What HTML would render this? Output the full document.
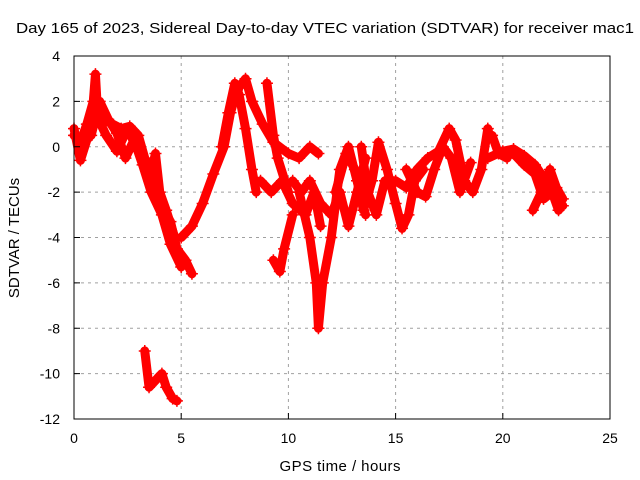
<!DOCTYPE html>
<html><head><meta charset="utf-8"><style>body{margin:0;background:#fff}svg{display:block;font-family:"Liberation Sans",sans-serif}</style></head>
<body>
<svg id="chart" width="640" height="480">
<text x="16" y="33" font-size="15" textLength="618" lengthAdjust="spacingAndGlyphs">Day 165 of 2023, Sidereal Day-to-day VTEC variation (SDTVAR) for receiver mac1</text>
<text x="340" y="471" font-size="15" text-anchor="middle" textLength="121">GPS time / hours</text>
<text transform="translate(19,238) rotate(-90)" font-size="15" text-anchor="middle">SDTVAR / TECUs</text>
<g id="grid"></g><g id="marks"></g><g id="axes"></g>
</svg>
<script>
const xTicks=[0,5,10,15,20,25];
const yTicks=[-12,-10,-8,-6,-4,-2,0,2,4];
const track1=[[0,0.5],[0.3,0.2],[0.6,1],[0.9,2],[1.0,3.2],[1.1,1.5],[1.4,1.2],[1.8,1.0],[2.2,0.8],[2.6,0.9],[3.0,0.5],[3.3,-0.5],[3.6,-1.3],[4.0,-2.5],[4.5,-3.3],[4.8,-4.5],[5.2,-5],[5.5,-5.6]];
const track2=[[0,0.8],[0.3,-0.6],[0.6,0.3],[1.0,1.5],[1.5,0.5],[2.0,-0.2],[2.5,0.8],[3.0,-0.2],[3.5,-1.5],[3.8,-0.3],[4.0,-2],[4.3,-2.8],[4.7,-4]];
const track3=[[5.0,-4],[5.5,-3.5],[6.0,-2.5],[6.5,-1.2],[7.0,0],[7.3,1.5],[7.6,2.5],[8.0,3.0],[8.3,2.0],[8.8,1],[9.3,0.2],[10,-0.3],[10.5,-0.5],[11,0],[11.4,-0.3]];
const track4=[[6.9,0],[7.2,1.5],[7.5,2.8],[7.7,2.3],[8.0,0.8],[8.3,-1],[8.5,-2]];
const track5=[[8.7,-1.5],[9.2,-2],[9.7,-1.5],[10.2,-2.5],[10.8,-3],[11.2,-2],[11.5,-3.5]];
const track6=[[9.0,2.8],[9.3,0.5],[9.5,-0.5],[10,-2]];
const track7=[[10.5,-2],[11,-4],[11.3,-6],[11.4,-8],[11.6,-6],[12,-4],[12.4,-1],[12.8,0],[13.2,-1.5],[13.6,-3]];
const track8=[[9.3,-5],[9.6,-5.5],[9.8,-4.5],[10.2,-3]];
const track9=[[12.2,-2],[12.7,-0.3],[13.1,-1],[13.5,-2.8],[13.9,-1.5],[14.2,0.2],[14.6,-1],[15.0,-2.5],[15.3,-3.6],[15.6,-3],[15.9,-1.5],[16.3,-1]];
const track10=[[13.4,0],[13.7,-2],[14.1,-3],[14.5,-1.5],[15.0,-1.5],[15.5,-1.8],[16,-1],[16.5,-0.5]];
const track11=[[15.5,-1],[16,-2],[16.4,-2.2],[16.8,-1],[17.2,0],[17.6,-0.5],[18,-2],[18.5,-0.7]];
const track12=[[16.5,-0.5],[17,-0.2],[17.5,0.8],[17.8,0.3],[18.2,-1.5],[18.6,-2],[19,-1],[19.3,0.8]];
const track13=[[19.3,-0.5],[20,-0.2],[20.5,-0.1],[21,-0.4],[21.5,-0.8],[22,-1.5],[22.5,-2.3],[22.8,-2.6]];
const track14=[[21.4,-2.8],[21.8,-2],[22.2,-1],[22.5,-1.8],[22.8,-2.3]];
const track15=[[19.5,0.5],[19.8,-0.3],[20.2,-0.5]];
const track16=[[3.3,-9],[3.5,-10.6],[3.8,-10.3],[4.1,-10],[4.3,-10.6],[4.6,-11.1],[4.8,-11.2]];
const track17=[[0.8,0.5],[1.2,2.0],[1.6,1.2],[2.0,0.6],[2.4,-0.5],[2.8,0.3],[3.2,-0.8],[3.6,-2.0],[4.1,-3.0],[4.5,-4.3],[5.0,-5.3]];
const track18=[[10.2,-1.5],[10.6,-2.0],[11.0,-1.5],[11.5,-2.5],[12.0,-3.0],[12.4,-2.0],[12.8,-3.5],[13.2,-2.0],[13.6,-0.5]];
const track19=[[20.5,-0.3],[21.0,-0.8],[21.5,-1.2],[21.9,-2.3],[22.3,-2.0],[22.6,-2.8]];
const tracks=[track1,track2,track3,track4,track5,track6,track7,track8,track9,track10,track11,track12,track13,track14,track15,track16,track17,track18,track19];
const L=74,R=610,T=56,B=419;
const sx=t=>L+(t-0)/25*(R-L);
const sy=v=>B-(v+12)/16*(B-T);
const NS='http://www.w3.org/2000/svg';
function mk(tag,at,parent){const e=document.createElementNS(NS,tag);for(const k in at)e.setAttribute(k,at[k]);parent.appendChild(e);return e;}
const grid=document.getElementById('grid'),axes=document.getElementById('axes'),marks=document.getElementById('marks');
xTicks.forEach(t=>{
 if(t>0&&t<25){const g=mk('line',{x1:sx(t),x2:sx(t),y1:T,y2:B,stroke:'#a0a0a0','stroke-dasharray':'3,4'},grid);
 
 }
 const tk=mk('line',{x1:sx(t),x2:sx(t),y1:B,y2:B-6,stroke:'#000'},axes);
 
 
 const tx=mk('text',{x:sx(t),y:B+24,'font-size':14,'text-anchor':'middle'},axes);tx.textContent=t;
 
 
});
yTicks.forEach(v=>{
 if(v>-12&&v<4){const g=mk('line',{x1:L,x2:R,y1:sy(v),y2:sy(v),stroke:'#a0a0a0','stroke-dasharray':'3,4'},grid);
 
 }
 const tk=mk('line',{x1:L,x2:L+6,y1:sy(v),y2:sy(v),stroke:'#000'},axes);
 
 
 const tx=mk('text',{x:L-14,y:sy(v)+5,'font-size':14,'text-anchor':'end'},axes);tx.textContent=v;
 
 
});
const fr=mk('rect',{x:L,y:T,width:R-L,height:B-T,fill:'none',stroke:'#000'},axes);


tracks.forEach(tr=>{
 const pl=mk('polyline',{points:tr.map(p=>sx(p[0])+','+sy(p[1])).join(' '),fill:'none',stroke:'#f00','stroke-width':9,'stroke-linejoin':'round','stroke-linecap':'round'},marks);
 
 
 tr.forEach(p=>{const x=sx(p[0]),y=sy(p[1]);
  const m=mk('path',{d:`M${x-6},${y}H${x+6}M${x},${y-6}V${y+6}`,stroke:'#f00','stroke-width':1.5},marks);
  
  
 });
});
</script>
</body></html>
